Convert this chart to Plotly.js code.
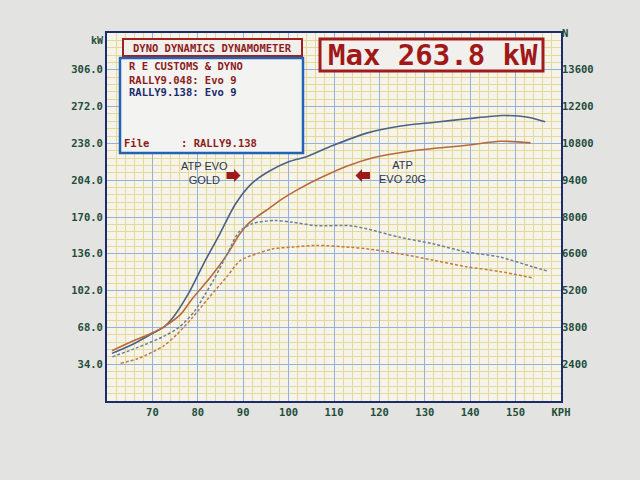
<!DOCTYPE html>
<html>
<head>
<meta charset="utf-8">
<script src="https://cdn.plot.ly/plotly-3.0.1.min.js"></script>
<style>html,body{margin:0;padding:0;background:#e3e3e1;}#chart{width:640px;height:480px;}</style>
</head>
<body>
<div id="chart"></div>
<script>
// ---- Data (read from the dyno sheet) ----
// ATP EVO GOLD (RALLY9.138) power, kW
const kphGoldPower = [61.1,65.7,69.2,72.7,74.5,77.9,81.3,84.8,88.3,91.9,95.6,100,104.1,109.7,117.2,124.7,132.2,139.8,147,149.6,153,156.5];
const kwGoldPower  = [44,52.5,60.5,69,77,99,127,154,182,201,212,221,226,236,247.5,254,257.5,261,263.8,263.5,262,258];
// ATP EVO 20G (RALLY9.048) power, kW
const kphEvo20gPower = [61.1,65.7,69.2,72.7,76.2,78.7,82.9,86.4,89.2,91.4,95.7,98.7,102.3,106.9,112.8,118.8,126.3,132.3,139.8,146.6,153.3];
const kwEvo20gPower  = [46.5,55.5,61.5,69,80,94,115,135,154,165,178,187,196,206,217,225,230.5,233.5,236.5,240,238.5];
// ATP EVO GOLD tractive effort, N
const kphGoldTE = [61.2,66.8,72.5,76,79.3,81.5,83.5,86.5,89.2,92.1,96.9,100.9,106.1,113.5,117.2,124.5,131.8,139.1,146.4,153.7,157.3];
const nGoldTE   = [2680,3040,3460,3820,4420,5030,5610,6600,7460,7750,7870,7800,7670,7670,7550,7230,6980,6670,6480,6110,5930];
// ATP EVO 20G tractive effort, N
const kphEvo20gTE = [63,66.9,72.5,75.5,78.8,82.3,86.5,89.4,93,96.6,101,106.1,113.4,117.2,124.5,131.8,139.1,146.4,153.6];
const nEvo20gTE   = [2440,2620,3100,3550,4170,4900,5750,6350,6600,6790,6855,6920,6850,6790,6600,6360,6110,5930,5690];

// Axis ticks
const xTickVals = [60,70,80,90,100,110,120,130,140,150,160];
const xTickText = ['','70','80','90','100','110','120','130','140','150','KPH'];
const yTickVals = [0,34,68,102,136,170,204,238,272,306,340];
const yTickText = ['','34.0','68.0','102.0','136.0','170.0','204.0','238.0','272.0','306.0',''];
const y2TickVals = [1000,2400,3800,5200,6600,8000,9400,10800,12200,13600,15000];
const y2TickText = ['','2400','3800','5200','6600','8000','9400','10800','12200','13600','N'];

// ---- Layout helpers ----
const L=107, R=561, T=33, B=401;
const px = x => (x-L)/(R-L);
const py = y => (B-y)/(B-T);
function path(pts){return 'M'+pts.map(p=>px(p[0])+','+py(p[1])).join(' L')+' Z';}

const mono = 'DejaVu Sans Mono, Liberation Mono, monospace';
const tickFont = {family: mono, size: 10.5, color:'#1e4d3a', weight:'bold'};
const darkRed = '#8e1c1c';

const traces = [
  {x:kphGoldPower, y:kwGoldPower, mode:'lines', line:{color:'#4b6189', width:1.6, shape:'spline', smoothing:0.8}, hoverinfo:'skip'},
  {x:kphEvo20gPower, y:kwEvo20gPower, mode:'lines', line:{color:'#b8693c', width:1.6, shape:'spline', smoothing:0.8}, hoverinfo:'skip'},
  {x:kphGoldTE, y:nGoldTE, yaxis:'y2', mode:'lines', line:{color:'#6a7fa3', width:1.5, dash:'3px,2px', shape:'spline', smoothing:0.8}, hoverinfo:'skip'},
  {x:kphEvo20gTE, y:nEvo20gTE, yaxis:'y2', mode:'lines', line:{color:'#c27a4c', width:1.5, dash:'3px,2px', shape:'spline', smoothing:0.8}, hoverinfo:'skip'}
];

const layout = {
  width:640, height:480,
  margin:{l:L, r:640-R, t:T, b:480-B},
  paper_bgcolor:'#e3e3e1',
  plot_bgcolor:'#f6f4e8',
  showlegend:false,
  xaxis:{range:[60,160], tickmode:'array', tickvals:xTickVals, ticktext:xTickText,
    showgrid:true, gridcolor:'#93b1da', gridwidth:1, zeroline:false,
    showline:true, mirror:true, linecolor:'#1c2a6e', linewidth:2, ticks:'',
    tickfont:tickFont,
    minor:{tickmode:'linear', tick0:60, dtick:2, showgrid:true, gridcolor:'#e3d99c', gridwidth:1, ticks:''}},
  yaxis:{range:[0,340], tickmode:'array', tickvals:yTickVals, ticktext:yTickText,
    showgrid:true, gridcolor:'#93b1da', gridwidth:1, zeroline:false,
    showline:true, mirror:true, linecolor:'#1c2a6e', linewidth:2, ticks:'',
    tickfont:tickFont,
    minor:{tickmode:'linear', tick0:0, dtick:6.8, showgrid:true, gridcolor:'#e3d99c', gridwidth:1, ticks:''}},
  yaxis2:{overlaying:'y', side:'right', range:[1000,15000], tickmode:'array', tickvals:y2TickVals, ticktext:y2TickText,
    showgrid:false, zeroline:false, showline:false, ticks:'', tickfont:tickFont},
  shapes:[
    {type:'rect', xref:'paper', yref:'paper', x0:px(123), x1:px(302), y0:py(56), y1:py(39), fillcolor:'#f1efeb', line:{color:'#a32020', width:2}},
    {type:'rect', xref:'paper', yref:'paper', x0:px(120), x1:px(303), y0:py(153), y1:py(58), fillcolor:'#f3f3f1', line:{color:'#2162b3', width:2.5}},
    {type:'rect', xref:'paper', yref:'paper', x0:px(320), x1:px(543), y0:py(71), y1:py(39), fillcolor:'#f2f0ec', line:{color:'#a01c1c', width:3}},
    {type:'path', xref:'paper', yref:'paper', path:path([[226.5,172],[234,172],[234,169],[240.5,175.5],[234,182],[234,179],[226.5,179]]), fillcolor:'#9e1a1a', line:{width:0}},
    {type:'path', xref:'paper', yref:'paper', path:path([[370,172],[362,172],[362,169],[355.5,175.5],[362,182],[362,179],[370,179]]), fillcolor:'#9e1a1a', line:{width:0}}
  ],
  annotations:[
    {xref:'paper', yref:'paper', x:px(97), y:py(41), text:'kW', showarrow:false, xanchor:'center', yanchor:'middle', font:{family:mono, size:10, color:'#1e4d3a', weight:'bold'}},
    {xref:'paper', yref:'paper', x:px(212.5), y:py(48), text:'DYNO DYNAMICS DYNAMOMETER', showarrow:false, xanchor:'center', yanchor:'middle', font:{family:mono, size:10.5, color:darkRed, weight:'bold'}},
    {xref:'paper', yref:'paper', x:px(127), y:py(65.5), text:'R E CUSTOMS & DYNO', showarrow:false, xanchor:'left', yanchor:'middle', font:{family:mono, size:10.5, color:darkRed, weight:'bold'}},
    {xref:'paper', yref:'paper', x:px(127), y:py(79.5), text:'RALLY9.048: Evo 9', showarrow:false, xanchor:'left', yanchor:'middle', font:{family:mono, size:10.5, color:darkRed, weight:'bold'}},
    {xref:'paper', yref:'paper', x:px(127), y:py(92), text:'RALLY9.138: Evo 9', showarrow:false, xanchor:'left', yanchor:'middle', font:{family:mono, size:10.5, color:'#1b2b6c', weight:'bold'}},
    {xref:'paper', yref:'paper', x:px(122), y:py(143), text:'File', showarrow:false, xanchor:'left', yanchor:'middle', font:{family:mono, size:10.5, color:darkRed, weight:'bold'}},
    {xref:'paper', yref:'paper', x:px(179), y:py(143), text:': RALLY9.138', showarrow:false, xanchor:'left', yanchor:'middle', font:{family:mono, size:10.5, color:darkRed, weight:'bold'}},
    {xref:'paper', yref:'paper', x:px(433), y:py(55.5), text:'Max 263.8 kW', showarrow:false, xanchor:'center', yanchor:'middle', font:{family:mono, size:29, color:'#a01818', weight:'bold'}},
    {xref:'paper', yref:'paper', x:px(204), y:py(173), text:'ATP EVO<br>GOLD', showarrow:false, xanchor:'center', yanchor:'middle', align:'center', font:{family:'Liberation Sans, Arial, sans-serif', size:11, color:'#2c3652'}},
    {xref:'paper', yref:'paper', x:px(402), y:py(172), text:'ATP<br>EVO 20G', showarrow:false, xanchor:'center', yanchor:'middle', align:'center', font:{family:'Liberation Sans, Arial, sans-serif', size:11, color:'#2c3652'}}
  ]
};

Plotly.newPlot('chart', traces, layout, {staticPlot:true, displayModeBar:false});
</script>
</body>
</html>
